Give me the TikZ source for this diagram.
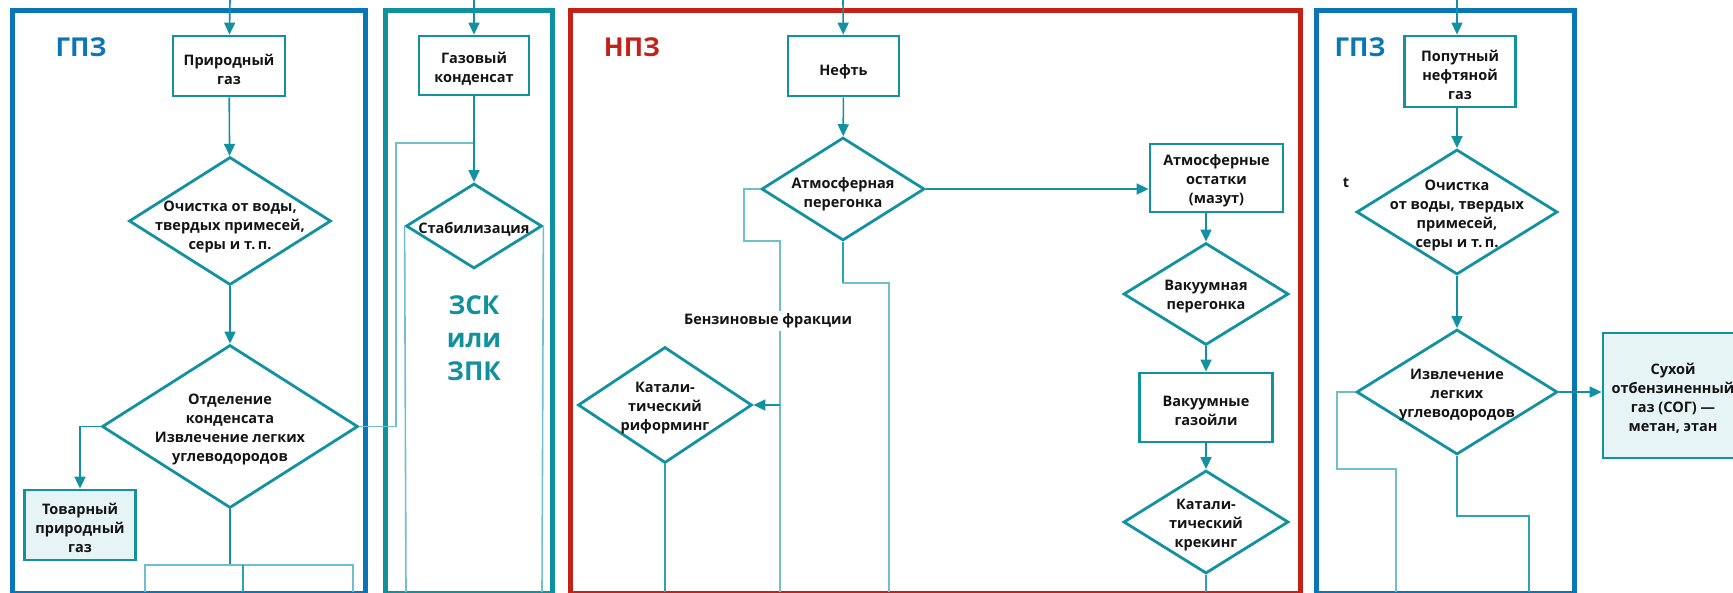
\documentclass[tikz,border=0pt]{standalone}
\usepackage{fontspec}
\setmainfont{Open Sans}
\usetikzlibrary{arrows.meta,shapes.geometric}
\definecolor{tealD}{RGB}{18,146,160}
\definecolor{tealM}{RGB}{45,162,180}
\definecolor{tealL}{RGB}{112,192,204}
\definecolor{frblue}{RGB}{10,118,181}
\definecolor{frred}{RGB}{196,34,24}
\definecolor{frteal}{RGB}{16,146,158}
\definecolor{lightfill}{RGB}{231,244,246}
\definecolor{ink}{RGB}{20,20,20}
\tikzset{
  frame/.style={line width=5pt},
  box/.style={draw=tealD, line width=2.8pt, fill=white, rectangle, inner sep=0pt},
  dia/.style={draw=tealD, line width=2.8pt, fill=white, diamond, inner sep=0pt},
  txt/.style={font=\bfseries\fontsize{14.5}{19}\selectfont, align=center, inner sep=0pt, text=ink, yshift=-3pt},
  big/.style={font=\bfseries\fontsize{26}{33}\selectfont, align=center, inner sep=0pt},
  conn/.style={draw=tealD, line width=1.6pt},
  arr/.style={conn, -{Triangle[length=12pt,width=11pt]}},
  lconn/.style={draw=tealL, line width=1.6pt},
  mconn/.style={draw=tealM, line width=1.5pt},
}
\begin{document}
\begin{tikzpicture}[x=1pt,y=-1pt]
\useasboundingbox (0,0) rectangle (1733,592);
\clip (0,0) rectangle (1733,592);
% frames
\draw[frame, draw=frblue] (12,10) rectangle (365,593);
\draw[frame, draw=frteal] (385,10) rectangle (552,593);
\draw[frame, draw=frred] (570,10) rectangle (1300,593);
\draw[frame, draw=frblue] (1316,10) rectangle (1574,593);
% frame labels
\node[big, text=frblue] (l1) at (81,47) {ГПЗ};
\node[big, text=frred] (l2) at (632,47) {НПЗ};
\node[big, text=frblue] (l3) at (1360,47) {ГПЗ};
\node[big, text=frteal] (l4) at (474,338) {ЗСК\\или\\ЗПК};
% free ends
\coordinate (t1) at (230,0);
\coordinate (t2) at (474,0);
\coordinate (t3) at (843,0);
\coordinate (t4) at (1457,0);
% boxes
\node[box, minimum width=112pt, minimum height=60pt] (pg) at (229,66) {};
\node[txt] at (pg) {Природный\\газ};
\node[box, minimum width=110pt, minimum height=59pt] (gk) at (474,65.5) {};
\node[txt] at (gk) {Газовый\\конденсат};
\node[box, minimum width=111pt, minimum height=60pt] (neft) at (843.5,66) {};
\node[txt] at ([yshift=-3pt]neft) {Нефть};
\node[box, minimum width=111pt, minimum height=71pt] (png) at (1460,71.5) {};
\node[txt] at (png) {Попутный\\нефтяной\\газ};
\node[box, minimum width=133pt, minimum height=68pt] (ao) at (1216.5,178) {};
\node[txt] at (ao) {Атмосферные\\остатки\\(мазут)};
\node[box, minimum width=133pt, minimum height=69pt] (vg) at (1206,407.5) {};
\node[txt] at (vg) {Вакуумные\\газойли};
\node[box, fill=lightfill, minimum width=111pt, minimum height=70pt] (tpg) at (80,525) {};
\node[txt] at (tpg) {Товарный\\природный\\газ};
\node[box, fill=lightfill, minimum width=140pt, minimum height=125pt] (sog) at (1673,395.5) {};
\node[txt] at (sog) {Сухой\\отбензиненный\\газ (СОГ) —\\метан, этан};
% diamonds
\node[dia, minimum width=202pt, minimum height=128pt] (d1) at (230,221) {};
\node[txt] at ([yshift=-3pt]d1) {Очистка от воды,\\твердых примесей,\\серы и т.\,п.};
\node[dia, minimum width=256pt, minimum height=163pt] (d2) at (230,426.5) {};
\node[txt] at (d2) {Отделение\\конденсата\\Извлечение легких\\углеводородов};
\node[dia, minimum width=136pt, minimum height=85pt] (stab) at (474,226) {};
\node[txt] at (stab) {Стабилизация};
\node[dia, minimum width=163pt, minimum height=103pt] (atm) at (843,189) {};
\node[txt] at ([yshift=-2pt]atm) {Атмосферная\\перегонка};
\node[dia, minimum width=174pt, minimum height=116pt] (rif) at (665,405) {};
\node[txt] at (rif) {Катали-\\тический\\риформинг};
\node[dia, minimum width=165pt, minimum height=102pt] (vac) at (1206,294) {};
\node[txt] at (vac) {Вакуумная\\перегонка};
\node[dia, minimum width=165pt, minimum height=103pt] (krek) at (1206,522) {};
\node[txt] at (krek) {Катали-\\тический\\крекинг};
\node[dia, minimum width=201pt, minimum height=125pt] (och2) at (1457,212) {};
\node[txt] at (och2) {Очистка\\от воды, твердых\\примесей,\\серы и т.\,п.};
\node[dia, minimum width=201pt, minimum height=125pt] (izv) at (1457,392) {};
\node[txt] at (izv) {Извлечение\\легких\\углеводородов};
\node[txt] (tl) at (1346,180) {t};
% connectors
\draw[arr] (t1) -- (pg);
\draw[arr] (t2) -- (gk);
\draw[arr] (t3) -- (neft);
\draw[arr] (t4) -- (t4 |- png.north);
\draw[arr] (pg) -- (d1);
\draw[arr] (d1) -- (d2);
\draw[arr] (d2.west) -| (tpg);
\draw[lconn] (d2.east) -- (396,426.5) -- (396,143) -- (474,143);
\draw[conn] (d2.south) -- (230,565);
\draw[lconn] (145,592) -- (145,565) -- (353,565) -- (353,592);
\draw[mconn] (243,565) -- (243,592);
\draw[arr] (gk) -- (stab);
\draw[lconn] (stab.west) -- (406,592);
\draw[lconn] (stab.east) -- (542,592);
\draw[arr] (neft) -- (atm);
\draw[lconn] (atm.west) -- (744,189) -- (744,241) -- (780,241) -- (780,592);
\node[txt, fill=white, inner sep=3pt] (benz) at (768,318) {Бензиновые фракции};
\coordinate (bj) at (780,405);
\draw[arr] (bj) -- (rif.east);
\draw[mconn] (atm.south) -- (843,283);
\draw[lconn] (843,283) -- (889,283) -- (889,592);
\draw[mconn] (rif.south) -- (665,592);
\draw[arr] (atm.east) -- (atm.east -| ao.west);
\draw[arr] (ao.south -| vac.north) -- (vac.north);
\draw[arr] (vac) -- (vg);
\draw[arr] (vg) -- (krek);
\draw[mconn] (krek.south) -- (1206,592);
\draw[arr] (png.south -| och2.north) -- (och2.north);
\draw[arr] (och2) -- (izv);
\draw[lconn] (izv.west) -- (1337,392) -- (1337,469) -- (1396,469) -- (1396,592);
\draw[mconn] (izv.south) -- (1457,516) -- (1529,516) -- (1529,592);
\draw[arr] (izv.east) -- (izv.east -| sog.west);
\end{tikzpicture}
\end{document}
